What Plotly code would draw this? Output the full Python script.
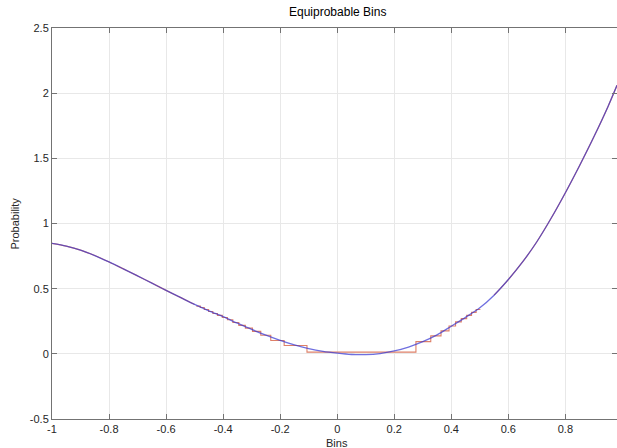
import plotly.graph_objects as go

# ---- data ----
curve_x = [-1.0, -0.95, -0.9, -0.85, -0.8, -0.75, -0.7, -0.65, -0.6, -0.55,
           -0.5, -0.45, -0.4, -0.35, -0.3, -0.25, -0.2, -0.15, -0.1, -0.05,
           0.0, 0.05, 0.1, 0.15, 0.2, 0.25, 0.3, 0.35, 0.4, 0.45,
           0.5, 0.55, 0.6, 0.65, 0.7, 0.75, 0.8, 0.85, 0.9, 0.95, 0.981]
curve_y = [0.847, 0.826, 0.796, 0.754, 0.705, 0.652, 0.598, 0.543, 0.487, 0.433,
           0.379, 0.330, 0.285, 0.235, 0.187, 0.143, 0.103, 0.068, 0.040, 0.019,
           0.005, -0.005, -0.006, 0.002, 0.022, 0.052, 0.093, 0.145, 0.212, 0.280,
           0.353, 0.450, 0.570, 0.705, 0.860, 1.040, 1.236, 1.445, 1.665, 1.900, 2.060]

# equiprobable bins resolved in the picture (edges and heights)
bin_edges = [-0.494, -0.480, -0.466, -0.451, -0.436, -0.420, -0.403, -0.385,
             -0.366, -0.345, -0.322, -0.297, -0.268, -0.233, -0.186, -0.106,
             0.276, 0.328, 0.364, 0.392, 0.415, 0.435, 0.454, 0.471, 0.487, 0.502]
bin_heights = [0.366, 0.355, 0.340, 0.325, 0.310, 0.295, 0.279, 0.262,
               0.240, 0.218, 0.197, 0.172, 0.143, 0.102, 0.064, 0.013,
               0.094, 0.138, 0.176, 0.214, 0.245, 0.270, 0.295, 0.318, 0.340]

x_ticks = [-1, -0.8, -0.6, -0.4, -0.2, 0, 0.2, 0.4, 0.6, 0.8]
x_tick_labels = ["-1", "-0.8", "-0.6", "-0.4", "-0.2", "0", "0.2", "0.4", "0.6", "0.8"]
y_ticks = [-0.5, 0, 0.5, 1, 1.5, 2, 2.5]
y_tick_labels = ["-0.5", "0", "0.5", "1", "1.5", "2", "2.5"]

title_text = "Equiprobable Bins"
x_label = "Bins"
y_label = "Probability"

# ---- build figure ----
STAIR = "rgb(222,128,104)"
CURVE = "rgba(50,50,210,0.7)"
TXT = "#262626"
FONT = "Liberation Sans, Arial, sans-serif"

W, H = 617, 448
L, R, T, B = 52, 0, 28, 29
PW, PH = W - L - R, H - T - B

fig = go.Figure()
# bins too narrow to resolve follow the curve
left_fine = [(x, y) for x, y in zip(curve_x, curve_y) if x <= bin_edges[0]]
right_fine = [(x, y) for x, y in zip(curve_x, curve_y) if x >= bin_edges[-1]]
for seg in (left_fine, right_fine):
    fig.add_trace(go.Scatter(x=[p[0] for p in seg], y=[p[1] for p in seg],
                             mode="lines", line=dict(color=STAIR, width=1.2, shape="spline"),
                             hoverinfo="skip", showlegend=False))
fig.add_trace(go.Scatter(x=bin_edges, y=bin_heights + [bin_heights[-1]],
                         mode="lines", line=dict(color=STAIR, width=1.1, shape="hv"),
                         showlegend=False))
fig.add_trace(go.Scatter(x=curve_x, y=curve_y, mode="lines",
                         line=dict(color=CURVE, width=1.3, shape="spline", smoothing=0.8),
                         showlegend=False))
# right-side ticks (no axis line)
fig.add_trace(go.Scatter(x=[], y=[], yaxis="y2", showlegend=False))

axis_common = dict(
    showgrid=True, gridcolor="rgb(232,232,232)", gridwidth=1,
    zeroline=False, showline=True, linecolor="rgb(115,115,115)", linewidth=1,
    ticks="inside", ticklen=5, tickcolor="rgb(115,115,115)",
    tickfont=dict(family=FONT, size=11, color=TXT),
    automargin=False,
)
fig.update_layout(
    width=W, height=H,
    margin=dict(l=L, r=R, t=T, b=B),
    paper_bgcolor="white", plot_bgcolor="white",
    xaxis=dict(range=[-1, 0.981], tickvals=x_ticks, ticktext=x_tick_labels,
               mirror="ticks", **axis_common),
    yaxis=dict(range=[-0.5, 2.5], tickvals=y_ticks, ticktext=y_tick_labels,
               mirror=False, **axis_common),
    yaxis2=dict(range=[-0.5, 2.5], overlaying="y", side="right", anchor="x",
                tickvals=y_ticks, showticklabels=False, showgrid=False, zeroline=False,
                showline=False, ticks="inside", ticklen=5, tickcolor="rgb(115,115,115)"),
    annotations=[
        dict(text=title_text, x=(337 - L) / PW, y=1 + (T - 12) / PH,
             xref="paper", yref="paper",
             xanchor="center", yanchor="middle", showarrow=False,
             font=dict(family=FONT, size=12, color="black")),
        dict(text=x_label, x=(337 - L) / PW, y=-(443 - (H - B)) / PH,
             xref="paper", yref="paper",
             xanchor="center", yanchor="middle", showarrow=False,
             font=dict(family=FONT, size=11, color=TXT)),
        dict(text=y_label, x=-(L - 14) / PW, y=0.5, xref="paper", yref="paper",
             xanchor="center", yanchor="middle", showarrow=False, textangle=-90,
             font=dict(family=FONT, size=11, color=TXT)),
    ],
)

fig.write_html("out.html", config={"displayModeBar": False},
               post_script="document.body.style.margin='0';document.body.style.overflow='hidden';")
